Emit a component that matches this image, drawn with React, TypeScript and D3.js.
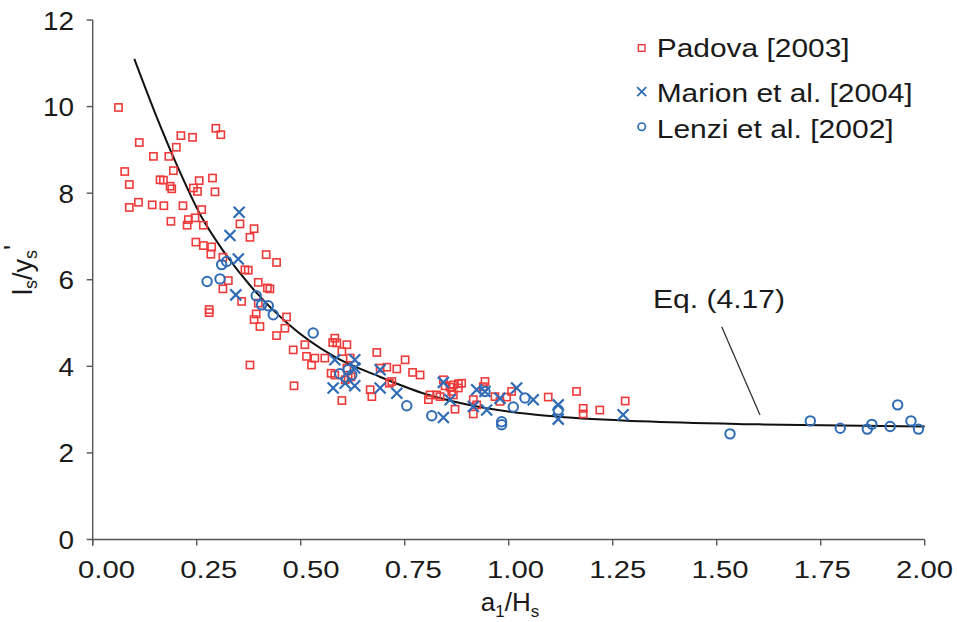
import React from "react";
import * as d3 from "d3";

const W = 957;
const H = 622;

// Padova [2003] (x = a1/Hs, y = ls/ys')
const padovaX = [0.062,0.296,0.308,0.212,0.240,0.112,0.201,0.146,0.183,0.194,0.077,0.162,0.170,0.256,0.288,0.088,0.186,0.190,0.242,0.252,0.294,0.110,0.088,0.143,0.171,0.217,0.262,0.188,0.230,0.227,0.246,0.266,0.354,0.388,0.378,0.248,0.266,0.286,0.284,0.417,0.442,0.366,0.374,0.313,0.326,0.313,0.398,0.420,0.426,0.280,0.280,0.358,0.398,0.393,0.388,0.402,0.466,0.462,0.442,0.482,0.510,0.514,0.534,0.582,0.587,0.577,0.611,0.599,0.558,0.526,0.619,0.611,0.683,0.573,0.582,0.621,0.614,0.607,0.484,0.599,0.667,0.671,0.691,0.707,0.731,0.751,0.769,0.787,0.719,0.713,0.811,0.807,0.827,0.835,0.847,0.859,0.867,0.879,0.887,0.863,0.879,0.915,0.843,0.867,0.871,0.915,0.923,0.943,0.939,0.967,0.979,0.995,1.007,1.095,1.163,1.179,1.179,1.219,1.280,0.378];
const padovaY = [9.98,9.50,9.35,9.33,9.29,9.17,9.06,8.85,8.85,8.52,8.50,8.31,8.30,8.29,8.35,8.20,8.16,8.10,8.12,8.04,8.03,7.79,7.67,7.73,7.71,7.71,7.62,7.35,7.39,7.26,7.43,7.26,7.29,7.18,6.98,6.87,6.79,6.76,6.59,6.58,6.40,6.23,6.22,6.52,5.98,5.79,5.94,5.81,5.79,5.31,5.24,5.50,5.46,5.21,5.08,4.92,5.14,4.88,4.71,4.38,4.50,4.23,4.19,4.65,4.54,4.55,4.50,4.34,4.19,4.03,4.19,3.96,4.32,3.84,3.80,3.76,3.73,3.69,3.55,3.21,3.46,3.30,3.96,3.98,3.94,4.15,3.86,3.80,3.65,3.61,3.34,3.23,3.34,3.30,3.55,3.52,3.57,3.60,3.61,3.42,3.50,3.23,3.69,3.34,3.01,2.90,3.11,3.65,3.53,3.30,3.19,3.29,3.42,3.29,3.42,3.03,2.90,2.99,3.20,4.03];

// Marion et al. [2004]
const marionX = [0.352,0.330,0.350,0.344,0.582,0.630,0.630,0.578,0.607,0.630,0.691,0.691,0.731,0.843,0.859,0.843,0.923,0.915,0.943,0.947,0.979,1.019,1.059,1.119,1.119,1.275];
const marionY = [7.56,7.02,6.48,5.65,4.15,4.15,3.96,3.50,3.61,3.55,3.92,3.50,3.38,3.63,3.23,2.82,3.46,3.07,3.42,2.99,3.26,3.50,3.23,3.11,2.78,2.88];

// Lenzi et al. [2002]
const lenziX = [0.310,0.322,0.275,0.306,0.393,0.406,0.422,0.434,0.530,0.594,0.614,0.623,0.755,0.815,0.943,0.983,0.983,1.011,1.039,1.119,1.532,1.725,1.797,1.862,1.873,1.917,1.935,1.967,1.985];
const lenziY = [6.35,6.42,5.96,6.02,5.63,5.42,5.40,5.19,4.77,3.83,3.92,3.80,3.09,2.86,3.42,2.72,2.65,3.06,3.27,2.99,2.44,2.74,2.57,2.55,2.66,2.61,3.11,2.74,2.55];

// Eq. (4.17) curve
const curveX = [0.10,0.15,0.20,0.26,0.31,0.38,0.47,0.58,0.69,0.80,0.93,1.10,1.32,1.60,2.00];
const curveY = [11.10,9.85,8.70,7.48,6.72,5.85,4.98,4.23,3.76,3.36,3.06,2.85,2.73,2.66,2.61];

const xTicks = [0, 0.25, 0.5, 0.75, 1.0, 1.25, 1.5, 1.75, 2.0];
const yTicks = [0, 2, 4, 6, 8, 10, 12];
const legendLabels = ["Padova [2003]", "Marion et al. [2004]", "Lenzi et al. [2002]"];

const RED = "#ef3a3a";
const BLUE = "#2f6cb5";
const AXIS = "#555";
const TEXT = "#1a1a1a";
const FONT = "'Liberation Sans', Arial, Helvetica, sans-serif";

export default function App() {
  const x = d3.scaleLinear().domain([0, 2]).range([92.7, 924.7]);
  const y = d3.scaleLinear().domain([0, 12]).range([539.5, 20]);
  const xLab = d3.scaleLinear().domain([0, 2]).range([106.5, 924.5]);

  const line = d3
    .line<number>()
    .x((_, i) => x(curveX[i]))
    .y((d) => y(d))
    .curve(d3.curveMonotoneX);

  const sq = 7.2;
  const xs = 5.5;
  const legendY = [48, 91.7, 126.7];
  const legendBase = [57.3, 101.7, 138];
  const legendW = [193, 256, 237];

  return (
    <svg
      width={W}
      height={H}
      style={{ position: "absolute", left: 0, top: 0, background: "#fff" }}
      fontFamily={FONT}
    >
      <rect x={0} y={0} width={W} height={H} fill="#fff" />
      {/* axes */}
      <line x1={x(0)} x2={x(0)} y1={y(12)} y2={y(0) + 6} stroke={AXIS} strokeWidth={1.4} />
      <line x1={x(0)} x2={x(2)} y1={y(0)} y2={y(0)} stroke={AXIS} strokeWidth={1.4} />
      {yTicks.map((t) => (
        <g key={"yt" + t}>
          <line x1={x(0) - 6} x2={x(0)} y1={y(t)} y2={y(t)} stroke={AXIS} strokeWidth={1.4} />
          <text
            x={74}
            y={y(t) + 9.5}
            textAnchor="end"
            fontSize={25.5}
            fill={TEXT}
            textLength={t >= 10 ? 31 : 15.5}
            lengthAdjust="spacingAndGlyphs"
          >
            {t}
          </text>
        </g>
      ))}
      {xTicks.map((t) => (
        <g key={"xt" + t}>
          <line x1={x(t)} x2={x(t)} y1={y(0)} y2={y(0) + 6} stroke={AXIS} strokeWidth={1.4} />
          <text
            x={xLab(t)}
            y={578}
            textAnchor="middle"
            fontSize={24}
            fill={TEXT}
            textLength={57}
            lengthAdjust="spacingAndGlyphs"
          >
            {t.toFixed(2)}
          </text>
        </g>
      ))}
      {/* axis titles */}
      <text x={510} y={611} textAnchor="middle" fontSize={26} fill={TEXT}>
        a<tspan fontSize={17} dy={6}>1</tspan>
        <tspan dy={-6}>/H</tspan>
        <tspan fontSize={17} dy={6}>s</tspan>
      </text>
      <text
        transform="translate(32,270) rotate(-90)"
        textAnchor="middle"
        fontSize={27}
        fill={TEXT}
      >
        l<tspan fontSize={18} dy={5}>s</tspan>
        <tspan dy={-5}>/y</tspan>
        <tspan fontSize={18} dy={5}>s</tspan>
        <tspan dy={-14}>'</tspan>
      </text>

      {/* curve */}
      <path d={line(curveY) || ""} fill="none" stroke="#111" strokeWidth={2} />

      {/* Padova squares */}
      {padovaX.map((v, i) => (
        <rect
          key={"p" + i}
          x={x(v) - sq / 2}
          y={y(padovaY[i]) - sq / 2}
          width={sq}
          height={sq}
          fill="none"
          stroke={RED}
          strokeWidth={1.6}
        />
      ))}
      {/* Marion crosses */}
      {marionX.map((v, i) => {
        const cx = x(v);
        const cy = y(marionY[i]);
        return (
          <path
            key={"m" + i}
            d={`M${cx - xs},${cy - xs}L${cx + xs},${cy + xs}M${cx - xs},${cy + xs}L${cx + xs},${cy - xs}`}
            stroke={BLUE}
            strokeWidth={2.2}
            fill="none"
          />
        );
      })}
      {/* Lenzi circles */}
      {lenziX.map((v, i) => (
        <circle
          key={"l" + i}
          cx={x(v)}
          cy={y(lenziY[i])}
          r={4.7}
          fill="none"
          stroke={BLUE}
          strokeWidth={2}
        />
      ))}

      {/* Eq label */}
      <text x={653} y={308} fontSize={26} fill={TEXT} textLength={132} lengthAdjust="spacingAndGlyphs">
        Eq. (4.17)
      </text>
      <line x1={721.7} y1={326.7} x2={760} y2={415} stroke="#333" strokeWidth={1.3} />

      {/* legend */}
      <rect x={641.7 - 3.3} y={legendY[0] - 3.3} width={6.6} height={6.6} fill="none" stroke={RED} strokeWidth={1.4} />
      <path
        d={`M${641.7 - 4.5},${legendY[1] - 4.5}L${641.7 + 4.5},${legendY[1] + 4.5}M${641.7 - 4.5},${legendY[1] + 4.5}L${641.7 + 4.5},${legendY[1] - 4.5}`}
        stroke={BLUE}
        strokeWidth={1.8}
      />
      <circle cx={641.7} cy={legendY[2]} r={3.7} fill="none" stroke={BLUE} strokeWidth={1.7} />
      {legendLabels.map((l, i) => (
        <text
          key={"lg" + i}
          x={656.7}
          y={legendBase[i]}
          fontSize={26}
          fill={TEXT}
          textLength={legendW[i]}
          lengthAdjust="spacingAndGlyphs"
        >
          {l}
        </text>
      ))}
    </svg>
  );
}
